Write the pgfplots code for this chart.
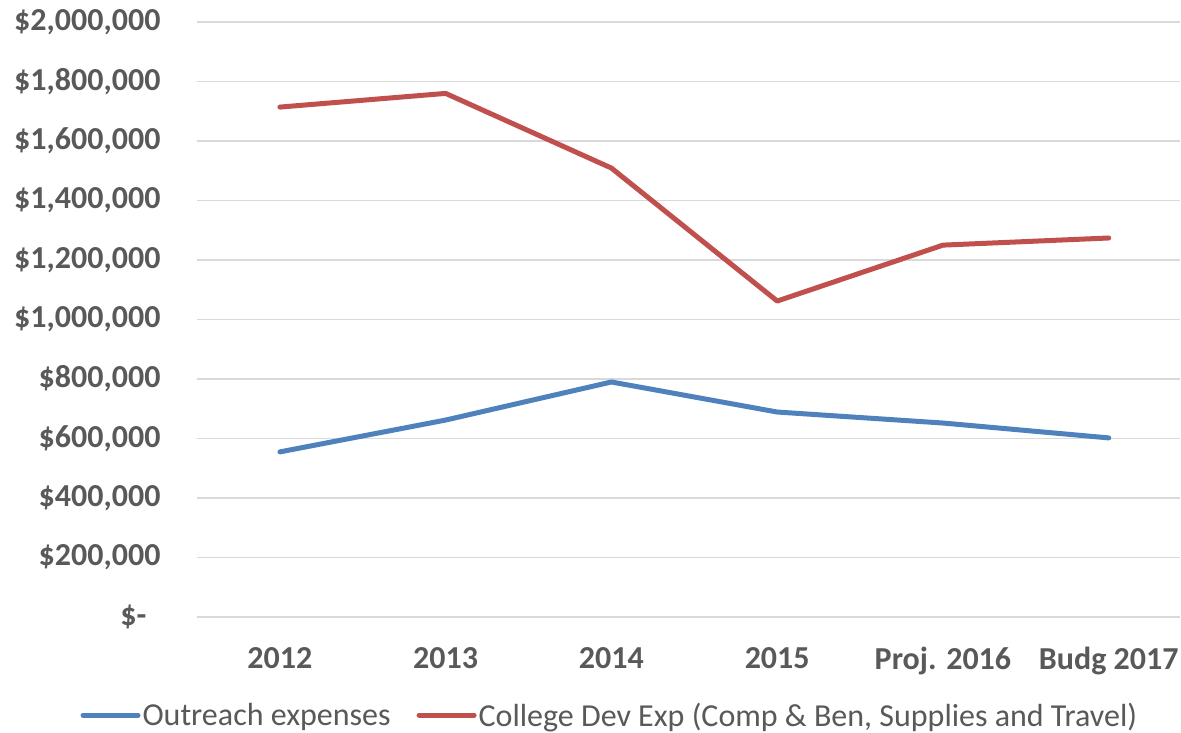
\documentclass[border=0pt]{standalone}
\usepackage{pgfplots}
\pgfplotsset{compat=1.18}
\usepackage{fontspec}
\setmainfont{Carlito}
\definecolor{blueS}{HTML}{4F81BD}
\definecolor{redS}{HTML}{C0504D}
\definecolor{gridc}{HTML}{D9D9D9}
\definecolor{tickc}{HTML}{595959}
\begin{document}
\begin{tikzpicture}[x=1pt,y=1pt]
\useasboundingbox (0,0) rectangle (1181,732);
\begin{axis}[
  at={(197pt,115pt)}, anchor=south west,
  scale only axis, width=983pt, height=595pt,
  xmin=-0.5, xmax=5.43, ymin=0, ymax=2000000,
  xtick={0,1,2,3,4,5},
  xticklabels={2012,2013,2014,2015,Proj. 2016,Budg 2017},
  ytick={0,200000,400000,600000,800000,1000000,1200000,1400000,1600000,1800000,2000000},
  yticklabels={{\$-\rule{14pt}{0pt}},{\$200,000},{\$400,000},{\$600,000},{\$800,000},{\$1,000,000},{\$1,200,000},{\$1,400,000},{\$1,600,000},{\$1,800,000},{\$2,000,000}},
  scaled y ticks=false,
  ymajorgrids, grid style={draw=gridc, line width=1.5pt},
  axis line style={draw=none},
  major tick length=0pt,
  tick label style={font=\fontsize{32}{38}\selectfont\bfseries, text=tickc},
  yticklabel style={anchor=east, xshift=-33pt},
  xticklabel style={anchor=north, yshift=-27pt},
  clip=false,
  legend columns=2,
  legend style={draw=none, fill=none, at={(axis description cs:0.42,-0.165)}, anchor=center,
    font=\fontsize{32}{38}\selectfont, text=tickc,
    /tikz/every even column/.append style={column sep=24pt}, inner sep=0pt},
  legend image code/.code={\draw[#1, line width=5pt, line cap=round] (0pt,0pt) -- (55pt,0pt);},
]
\addplot[blueS, line width=5pt, line cap=round, line join=round] coordinates {
  (0,555000) (1,662000) (2,790000) (3,689000) (4,652000) (5,602000)};
\addlegendentry{Outreach expenses}
\addplot[redS, line width=5pt, line cap=round, line join=round] coordinates {
  (0,1714000) (1,1760000) (2,1509000) (3,1062000) (4,1250000) (5,1274000)};
\addlegendentry{College Dev Exp (Comp \& Ben, Supplies and Travel)}
\end{axis}
\end{tikzpicture}
\end{document}
